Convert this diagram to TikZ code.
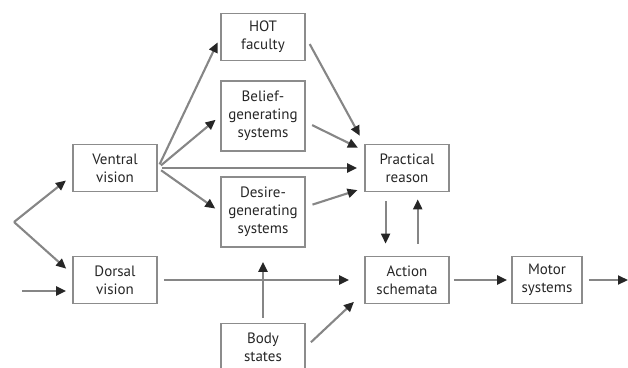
\documentclass[tikz,border=0pt]{standalone}
\usepackage{fontspec}
\setmainfont{PT Sans}
\usepackage{tikz}
\usetikzlibrary{positioning, arrows.meta, calc}

\tikzset{
    box/.style={draw=gray!90, line width=1.7pt, align=center, text=black!85,
        minimum width=84pt, minimum height=47pt, inner sep=2pt,
        font=\fontsize{15}{18}\selectfont},
    tallbox/.style={box, minimum height=70pt},
    arr/.style={draw=gray!95, line width=2.1pt,
        -{Triangle[length=10pt, width=9pt, color=black!85]},
        shorten <=5pt, shorten >=6pt}
}

\begin{document}
\begin{tikzpicture}[x=1pt, y=-1pt]
        \clip (0,0) rectangle (628,367);

        % Boxes
        \node[box] (ventral) at (115,168) {Ventral\\vision};
        \node[box] (dorsal) at (115,280) {Dorsal\\vision};
        \node[box] (hot) at (263,37) {HOT\\faculty};
        \node[tallbox] (belief) at (263,116) {Belief-\\generating\\systems};
        \node[tallbox] (desire) at (263,212) {Desire-\\generating\\systems};
        \node[box] (body) at (263,347) {Body\\states};
        \node[box] (practical) at (407,168) {Practical\\reason};
        \node[box] (action) at (407,280) {Action\\schemata};
        \node[box, minimum width=70pt] (motor) at (547,280) {Motor\\systems};

        % Free ends
        \coordinate (fork) at (14,222);
        \coordinate (input) at (20,291);
        \coordinate (output) at (628,280);

        % Into the two visual streams
        \draw[arr, shorten <=0pt, shorten >=8pt] (fork) -- (ventral.190);
        \draw[arr, shorten <=0pt, shorten >=8pt] (fork) -- (dorsal.172);
        \draw[arr, shorten <=2pt] (input) -- (input -| dorsal.west);

        % Ventral vision fans out
        \draw[arr, shorten <=4pt] (ventral.east) -- (hot.west);
        \draw[arr, shorten <=4pt] (ventral.east) -- (belief.west);
        \draw[arr, line width=2.8pt, shorten <=4pt, shorten >=7pt] (ventral.east) -- (practical.west);
        \draw[arr, shorten <=4pt] (ventral.east) -- (desire.west);

        % Into practical reason
        \draw[arr, shorten <=8pt, shorten >=9pt] (hot.east) -- (practical.north west);
        \draw[arr, shorten <=7pt, shorten >=7pt] (belief.-8) -- (practical.158);
        \draw[arr, shorten <=7pt, shorten >=7pt] (desire.7) -- (practical.205);

        % Practical reason <-> action schemata
        \draw[arr, shorten <=9pt, shorten >=12pt]
            ($(practical.south)!0.5!(practical.south west)$)
            -- ($(action.north)!0.5!(action.north west)$);
        \draw[arr, shorten <=12pt, shorten >=7pt]
            ($(action.north)!0.25!(action.north east)$)
            -- ($(practical.south)!0.25!(practical.south east)$);

        % Dorsal vision and body states
        \draw[arr, shorten <=6pt, shorten >=15pt] (dorsal.east) -- (action.west);
        \draw[arr, shorten <=5pt, shorten >=14pt] (body.north) -- (desire.south);
        \draw[arr, shorten <=7pt, shorten >=14pt] (body.east) -- (action.196);

        % Out to the motor systems
        \draw[arr, shorten <=4pt, shorten >=4pt] (action.east) -- (motor.west);
        \draw[arr, shorten <=6pt, shorten >=0pt] (motor.east) -- (output);
\end{tikzpicture}
\end{document}
